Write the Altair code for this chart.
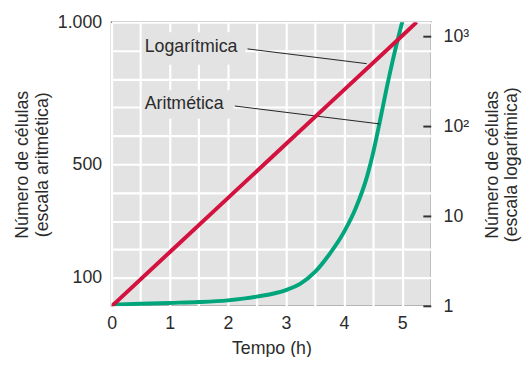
import altair as alt
import pandas as pd

# ---- data ----
hours_green = [0, 0.5, 1, 1.5, 2, 2.5, 3, 3.25, 3.5, 3.75, 4, 4.2, 4.4, 4.5, 4.6, 4.73, 4.86, 5.0, 5.1]
cells_green = [6, 9, 12, 15, 21, 34, 57, 80, 121, 184, 262, 345, 460, 540, 635, 765, 885, 1000, 1080]

hours_red = [0, 1, 2, 3, 4, 5, 5.25]
cells_red = [1, 4, 16, 64, 256, 1024, 1450]

x_grid = [0, 0.5, 1, 1.5, 2, 2.5, 3, 3.5, 4, 4.5, 5, 5.5]
y_grid = [0, 100, 200, 300, 400, 500, 600, 700, 800, 900, 1000]
log_ticks = [1, 10, 100, 1000]

label_text = ["Logarítmica", "Aritmética"]
label_t = [0.57, 0.57]
label_v = [912, 712]
box_t1 = [0.52, 0.52]
box_t2 = [2.3, 2.1]
box_v1 = [850, 660]
box_v2 = [965, 760]
lead_t1 = [2.34, 2.12]
lead_v1 = [906, 705]
lead_t2 = [4.39, 4.61]
lead_v2 = [854, 642]

FONT = "Liberation Sans"
BG = "#e3e3e3"
TXT = "#2b2b2b"

green_df = pd.DataFrame({"t": hours_green, "n": cells_green})
red_df = pd.DataFrame({"t": hours_red, "n": cells_red})
lab_df = pd.DataFrame({"text": label_text, "t": label_t, "v": label_v,
                       "t1": box_t1, "t2": box_t2, "v1": box_v1, "v2": box_v2,
                       "lt1": lead_t1, "lv1": lead_v1, "lt2": lead_t2, "lv2": lead_v2})
tick_df = pd.DataFrame({"n": log_ticks})

x_scale = alt.Scale(domain=[0, 5.5], nice=False)
y_lin = alt.Scale(domain=[0, 1000], nice=False)
y_log = alt.Scale(type="log", domain=[1, 1450], nice=False)

GRID = dict(grid=True, gridColor="#ffffff", gridWidth=2.2, gridOpacity=1)
x_axis = alt.Axis(values=x_grid, ticks=False, domain=False, labelFlush=False,
                  labelExpr="floor(datum.value)==datum.value && datum.value<=5 ? format(datum.value,'d') : ''",
                  title="Tempo (h)", labelPadding=8, titlePadding=8, **GRID)
y_axis = alt.Axis(values=y_grid, ticks=False, domain=False, labelFlush=False,
                  labelExpr="datum.value==1000 ? '1.000' : (datum.value==500 || datum.value==100) ? format(datum.value,'d') : ''",
                  title=["Número de células", "(escala aritmética)"],
                  labelPadding=10, titlePadding=6, **GRID)
y_axis_r = alt.Axis(orient="right", values=log_ticks, ticks=False, domain=False, grid=False,
                    labelFlush=False,
                    labelExpr="datum.value==1 ? '1' : datum.value==10 ? '10' : datum.value==100 ? '10²' : '10³'",
                    title=["Número de células", "(escala logarítmica)"], titleAngle=270,
                    titleLineHeight=19, labelPadding=12, titlePadding=14)

green = alt.Chart(green_df).mark_line(color="#00a57c", strokeWidth=4, clip=True,
                                      interpolate="monotone").encode(
    x=alt.X("t:Q", scale=x_scale, axis=x_axis),
    y=alt.Y("n:Q", scale=y_lin, axis=y_axis),
)
boxes = alt.Chart(lab_df).mark_rect(color=BG).encode(
    x=alt.X("t1:Q", scale=x_scale, axis=x_axis), x2="t2:Q",
    y=alt.Y("v1:Q", scale=y_lin, axis=y_axis), y2="v2:Q")
texts = alt.Chart(lab_df).mark_text(align="left", baseline="middle", fontSize=18,
                                    color=TXT, font=FONT).encode(
    x=alt.X("t:Q", scale=x_scale, axis=x_axis),
    y=alt.Y("v:Q", scale=y_lin, axis=y_axis), text="text:N")
leads = alt.Chart(lab_df).mark_rule(color="#222", strokeWidth=1).encode(
    x=alt.X("lt1:Q", scale=x_scale, axis=x_axis), x2="lt2:Q",
    y=alt.Y("lv1:Q", scale=y_lin, axis=y_axis), y2="lv2:Q")

left = alt.layer(green, boxes, texts, leads)

red = alt.Chart(red_df).mark_line(color="#d3123f", strokeWidth=4, clip=True).encode(
    x=alt.X("t:Q", scale=x_scale, axis=x_axis),
    y=alt.Y("n:Q", scale=y_log, axis=y_axis_r),
)
rticks = alt.Chart(tick_df).mark_rule(color="#333", strokeWidth=2).encode(
    x=alt.value(316), x2=alt.value(324), y=alt.Y("n:Q", scale=y_log, axis=y_axis_r))
right = alt.layer(red, rticks)

chart = alt.layer(left, right).resolve_scale(y="independent")

chart = chart.properties(
    width=324, height=288,
    padding={"left": 105, "top": 12, "right": 92, "bottom": 49},
    autosize=alt.AutoSizeParams(type="none"),
).configure_view(
    fill=BG, stroke="#555", strokeWidth=1.5
).configure_axis(
    labelFont=FONT, titleFont=FONT, labelFontSize=18, titleFontSize=18,
    titleLineHeight=20,
    labelColor=TXT, titleColor=TXT, titleFontWeight="normal"
)

chart.save("out.html", embed_options={"renderer": "svg", "actions": False})
